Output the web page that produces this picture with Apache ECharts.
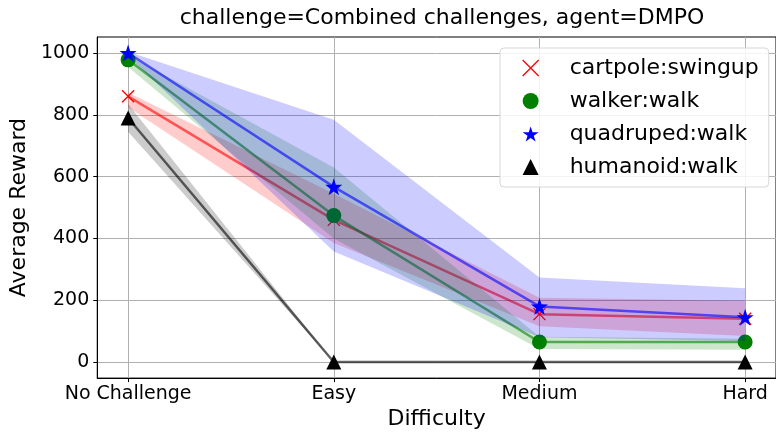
<!DOCTYPE html>
<html>
<head>
<meta charset="utf-8">
<script src="https://cdn.jsdelivr.net/npm/echarts@6/dist/echarts.min.js"></script>
<style>
  html, body { margin: 0; padding: 0; background: #fff; }
  #chart { width: 776px; height: 435px; }
</style>
</head>
<body>
<div id="chart"></div>
<script>
// difficulty levels on the x axis
const categories = ["No Challenge", "Easy", "Medium", "Hard"];
const yTicks = [0, 200, 400, 600, 800, 1000];

// mean reward per task
const cartpoleMean = [860, 460, 155, 140];
const walkerMean = [978, 474, 65, 65];
const quadrupedMean = [1000, 567, 180, 145];
const humanoidMean = [790, 0, 0, 0];

// shaded range (low / high)
const cartpoleLow = [825, 385, 116, 84];
const cartpoleHigh = [872, 545, 208, 198];
const walkerLow = [955, 400, 42, 40];
const walkerHigh = [993, 630, 82, 75];
const quadrupedLow = [990, 358, 80, 68];
const quadrupedHigh = [1004, 784, 274, 239];
const humanoidLow = [745, 0, 0, 0];
const humanoidHigh = [835, 0, 0, 0];

const FONT = "DejaVu Sans";

// path symbols
const crossPath = "path://M0,0L10,10M10,0L0,10";
const starPath = "path://M50,0L61.8,35.1L98.9,35.5L69.1,57.7L80.3,93.1L50,71.6L19.7,93.1L30.9,57.7L1.1,35.5L38.2,35.1Z";

function toPoints(vals) {
  return vals.map((v, i) => [i, v]);
}

// band drawn as one polygon through the axes
function bandSeries(low, high, color, z) {
  return {
    type: "custom",
    z: z,
    silent: true,
    data: low.map((v, i) => [i, v, high[i]]),
    renderItem: function (params, api) {
      if (params.dataIndex !== 0) return null;
      const pts = [];
      for (let i = 0; i < low.length; i++) pts.push(api.coord([i, high[i]]));
      for (let i = low.length - 1; i >= 0; i--) pts.push(api.coord([i, low[i]]));
      return {
        type: "polygon",
        shape: { points: pts },
        style: { fill: color, stroke: null }
      };
    }
  };
}

function lineSeries(name, vals, lineColor, markColor, symbol, size, z, hollow) {
  return {
    name: name,
    type: "line",
    z: z,
    data: toPoints(vals),
    symbol: symbol,
    symbolSize: size,
    showAllSymbol: true,
    lineStyle: { color: lineColor, width: 2.5 },
    itemStyle: hollow
      ? { color: "rgba(0,0,0,0)", borderColor: markColor, borderWidth: 1.3 }
      : { color: markColor, borderWidth: 0 },
    emphasis: { disabled: true },
    animation: false
  };
}

const chart = echarts.init(document.getElementById("chart"), null, { renderer: "canvas" });

chart.setOption({
  animation: false,
  title: {
    text: "challenge=Combined challenges, agent=DMPO",
    left: 437,
    textAlign: "center",
    top: 2,
    textStyle: { fontFamily: FONT, fontSize: 22, fontWeight: "normal", color: "#000" }
  },
  grid: { left: 94, top: 37, width: 687, height: 342, show: true, borderColor: "#000", borderWidth: 1 },
  legend: {
    orient: "vertical",
    left: 500,
    top: 48,
    padding: [9, 10, 9, 22],
    itemGap: 11,
    itemWidth: 16,
    itemHeight: 16,
    backgroundColor: "rgba(255,255,255,0.85)",
    borderColor: "#d6d6d6",
    borderWidth: 1,
    borderRadius: 4,
    textStyle: { fontFamily: FONT, fontSize: 22, color: "#000", padding: [0, 0, 0, 26] },
    data: [
      { name: "cartpole:swingup", icon: crossPath, itemStyle: { color: "rgba(0,0,0,0)", borderColor: "#ff0000", borderWidth: 1.3 } },
      { name: "walker:walk", icon: "circle" },
      { name: "quadruped:walk", icon: starPath },
      { name: "humanoid:walk", icon: "triangle" }
    ]
  },
  xAxis: {
    type: "value",
    min: -0.15,
    max: 3.15,
    name: "Difficulty",
    nameLocation: "middle",
    nameGap: 29,
    nameTextStyle: { fontFamily: FONT, fontSize: 22, color: "#000" },
    axisLine: { show: true, onZero: false, lineStyle: { color: "#000" } },
    axisTick: { show: true, length: 4, customValues: [0, 1, 2, 3], lineStyle: { color: "#000" } },
    axisLabel: {
      customValues: [0, 1, 2, 3],
      formatter: v => categories[Math.round(v)],
      fontFamily: FONT, fontSize: 19, color: "#000", margin: 6
    },
    splitLine: { show: true, customValues: [0, 1, 2, 3], lineStyle: { color: "#b0b0b0", width: 1 } }
  },
  yAxis: {
    type: "value",
    min: -52,
    max: 1052,
    name: "Average Reward",
    nameLocation: "middle",
    nameGap: 57,
    nameTextStyle: { fontFamily: FONT, fontSize: 22, color: "#000" },
    axisLine: { show: true, onZero: false, lineStyle: { color: "#000" } },
    axisTick: { show: true, length: 4, customValues: yTicks, lineStyle: { color: "#000" } },
    axisLabel: { customValues: yTicks, formatter: v => String(v), fontFamily: FONT, fontSize: 19, color: "#000", margin: 8 },
    splitLine: { show: true, customValues: yTicks, lineStyle: { color: "#b0b0b0", width: 1 } }
  },
  series: [
    bandSeries(cartpoleLow, cartpoleHigh, "rgba(255,0,0,0.2)", 1),
    lineSeries("cartpole:swingup", cartpoleMean, "rgba(255,0,0,0.6)", "#ff0000", crossPath, 12, 2, true),
    bandSeries(walkerLow, walkerHigh, "rgba(0,128,0,0.2)", 3),
    lineSeries("walker:walk", walkerMean, "rgba(0,128,0,0.6)", "#008000", "circle", 15, 4, false),
    bandSeries(quadrupedLow, quadrupedHigh, "rgba(0,0,255,0.2)", 5),
    lineSeries("quadruped:walk", quadrupedMean, "rgba(0,0,255,0.6)", "#0000ff", starPath, 17, 6, false),
    bandSeries(humanoidLow, humanoidHigh, "rgba(0,0,0,0.2)", 7),
    lineSeries("humanoid:walk", humanoidMean, "rgba(0,0,0,0.6)", "#000000", "triangle", 15, 8, false)
  ]
});
</script>
</body>
</html>
